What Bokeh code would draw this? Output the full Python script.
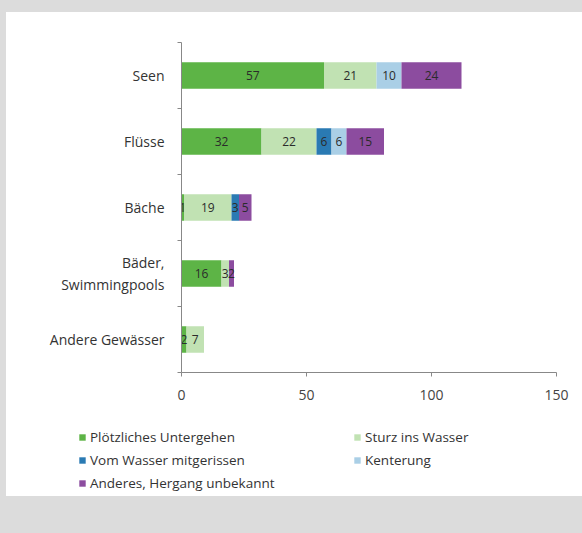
from bokeh.plotting import figure
from bokeh.models import ColumnDataSource, Range1d, FixedTicker, Legend, LegendItem
from bokeh.layouts import column
from bokeh.embed import file_html
from bokeh.resources import INLINE
from bokeh.core.properties import value

categories = ["Seen", "Flüsse", "Bäche", "Bäder,\nSwimmingpools", "Andere Gewässer"]
series_names = ["Plötzliches Untergehen", "Sturz ins Wasser", "Vom Wasser mitgerissen",
                "Kenterung", "Anderes, Hergang unbekannt"]
ploetzlich = [57, 32, 1, 16, 2]
sturz = [21, 22, 19, 3, 7]
mitgerissen = [0, 6, 3, 0, 0]
kenterung = [10, 6, 0, 0, 0]
anderes = [24, 15, 5, 2, 0]
x_ticks = [0, 50, 100, 150]
colors = ["#5db446", "#c1e2b3", "#2a7ab3", "#aacfe6", "#8c4c9f"]

series = [ploetzlich, sturz, mitgerissen, kenterung, anderes]
keys = ["s%d" % i for i in range(len(series))]
n = len(categories)
ypos = [n - 0.5 - i for i in range(n)]

data = {"y": ypos}
for k, s in zip(keys, series):
    data[k] = s
src = ColumnDataSource(data)

FONT = value("Open Sans")

p = figure(width=576, height=398, output_backend="svg", toolbar_location=None,
           x_range=Range1d(0, 150), y_range=Range1d(0, n),
           min_border_left=175, min_border_right=26, min_border_top=30,
           min_border_bottom=38)
p.frame_align = False
p.outline_line_color = None
p.xgrid.visible = False
p.ygrid.visible = False
p.background_fill_color = "white"
p.border_fill_color = "white"

renderers = p.hbar_stack(keys, y="y", height=0.4, color=colors, source=src,
                         line_color=None)

# value labels
lx, ly, lt = [], [], []
cum = [0] * n
for s in series:
    for i in range(n):
        if s[i] > 0:
            lx.append(cum[i] + s[i] / 2)
            ly.append(ypos[i])
            lt.append(str(s[i]))
        cum[i] += s[i]
p.text(x="x", y="y", text="t", source=ColumnDataSource(dict(x=lx, y=ly, t=lt)),
       text_align="center", text_baseline="middle", text_font=FONT,
       text_font_size="12px", text_color="#2b2b2b")

# y axis
yax = p.yaxis[0]
yax.ticker = FixedTicker(ticks=ypos, minor_ticks=list(range(n + 1)))
yax.major_label_overrides = {ypos[i]: categories[i] for i in range(n)}
yax.major_tick_out = 0
yax.major_tick_in = 0
yax.minor_tick_out = 4
yax.minor_tick_in = 0
yax.major_label_standoff = 13
yax.major_label_text_font = "Open Sans"
yax.major_label_text_font_size = "14px"
yax.major_label_text_color = "#333333"
yax.axis_line_color = "#888888"
yax.minor_tick_line_color = "#888888"

xax = p.xaxis[0]
xax.ticker = FixedTicker(ticks=x_ticks)
xax.major_tick_out = 4
xax.major_tick_in = 0
xax.minor_tick_out = 0
xax.minor_tick_in = 0
xax.major_label_standoff = 13
xax.major_label_text_font = "Open Sans"
xax.major_label_text_font_size = "14px"
xax.major_label_text_color = "#444444"
xax.axis_line_color = "#888888"
xax.major_tick_line_color = "#888888"

# legend in its own strip below the chart (bars here fall outside its view)
lf = figure(width=576, height=86, output_backend="svg", toolbar_location=None,
            x_range=Range1d(1000, 1001), y_range=Range1d(1000, 1001),
            x_axis_location=None, y_axis_location=None,
            min_border=0, min_border_left=0, min_border_right=0,
            min_border_top=0, min_border_bottom=0)
lf.frame_align = False
lf.outline_line_color = None
lf.xgrid.visible = False
lf.ygrid.visible = False
lf.background_fill_color = "white"
lf.border_fill_color = "white"

proxies = lf.hbar_stack(keys, y="y", height=0.4, color=colors, source=src,
                        line_color=None)
items = [LegendItem(label=series_names[i], renderers=[proxies[i]]) for i in range(len(series))]
legend = Legend(items=items, location=(72, 3), orientation="horizontal", ncols=2,
                glyph_width=8, glyph_height=8, label_standoff=4, label_height=20,
                label_width=260, spacing=3, padding=0, margin=0,
                border_line_color=None, background_fill_alpha=0,
                label_text_font="Open Sans", label_text_font_size="13.5px",
                label_text_color="#333333")
lf.add_layout(legend)

inner = column(p, lf, width=576, height=484, spacing=0,
               styles={"background-color": "white"})
inner.margin = (12, 0, 37, 6)
layout = column(inner, width=582, height=533, spacing=0,
                styles={"background-color": "#dcdcdc"})

open("out.html", "w").write(file_html(layout, INLINE))
